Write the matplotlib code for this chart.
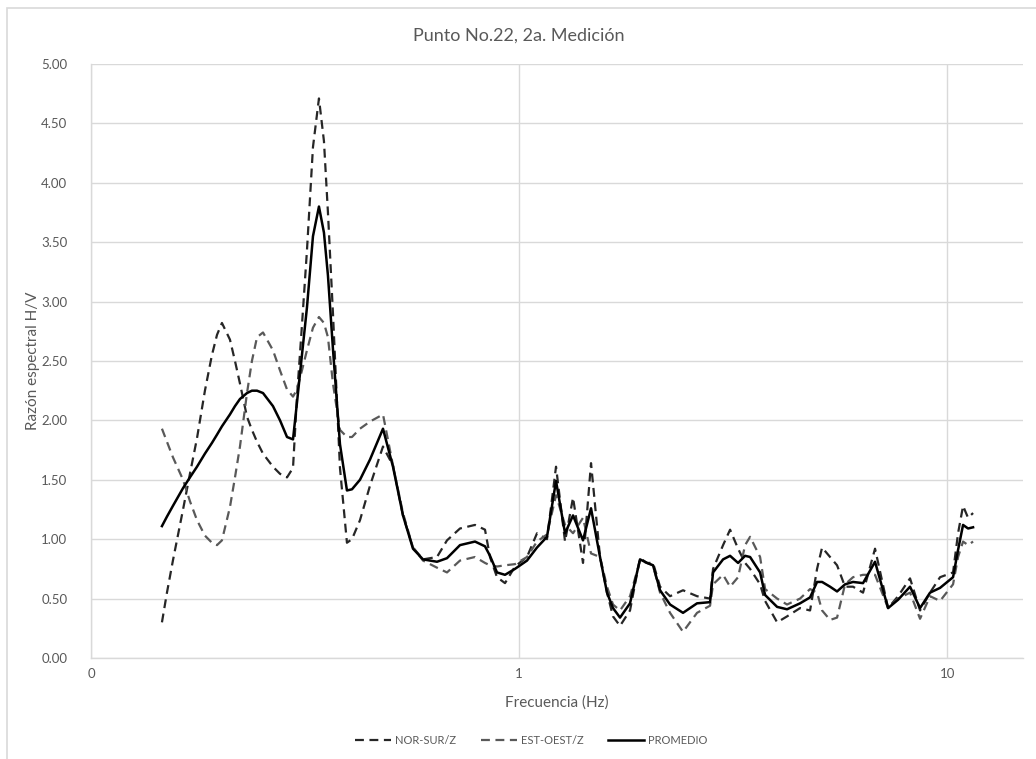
import matplotlib
matplotlib.use("Agg")
import matplotlib.pyplot as plt
from matplotlib.patches import Rectangle
from matplotlib.ticker import FixedLocator, FixedFormatter, MultipleLocator, FormatStrFormatter

# frequency (Hz) shared by the three curves
freq = [0.1465, 0.1505, 0.1554, 0.1641, 0.1703, 0.1769, 0.1846, 0.1917, 0.1970, 0.2023,
        0.2112, 0.2170, 0.2229, 0.2315, 0.2377, 0.2443, 0.2523, 0.2662, 0.2765, 0.2871,
        0.2965, 0.3029, 0.3111, 0.3196, 0.3301, 0.3409, 0.3502, 0.3578, 0.3676, 0.3817,
        0.3963, 0.4072, 0.4251, 0.4486, 0.4811, 0.5077, 0.5357, 0.5653, 0.5966, 0.6433,
        0.6788, 0.7280, 0.7892, 0.8328, 0.8555, 0.8884, 0.9275, 0.9787, 1.0440, 1.1017,
        1.1625, 1.2203, 1.2809, 1.3372, 1.4110, 1.4731, 1.5461, 1.6055, 1.6581, 1.7218,
        1.8169, 1.9173, 1.9910, 2.0564, 2.1355, 2.2534, 2.4164, 2.6055, 2.7947, 2.8401,
        2.9974, 3.1125, 3.2494, 3.3743, 3.4664, 3.6578, 3.7576, 4.0086, 4.2283, 4.5352,
        4.7862, 4.9696, 5.1053, 5.3293, 5.5341, 5.7771, 6.0308, 6.3636, 6.7881, 7.2817,
        7.6838, 8.1946, 8.6478, 9.1260, 9.6303, 10.328, 10.610, 10.899, 11.196, 11.502]

nor_sur = [0.30, 0.55, 0.82, 1.25, 1.55, 1.85, 2.25, 2.55, 2.72, 2.82,
           2.68, 2.50, 2.31, 2.03, 1.92, 1.82, 1.72, 1.61, 1.55, 1.52,
           1.60, 2.20, 2.80, 3.43, 4.30, 4.71, 4.35, 3.75, 2.90, 1.60,
           0.97, 1.00, 1.16, 1.45, 1.78, 1.62, 1.20, 0.93, 0.83, 0.85,
           0.99, 1.09, 1.12, 1.08, 0.85, 0.68, 0.63, 0.77, 0.85, 1.05,
           1.00, 1.61, 0.98, 1.35, 0.80, 1.64, 0.85, 0.55, 0.35, 0.27,
           0.40, 0.84, 0.80, 0.80, 0.60, 0.52, 0.57, 0.52, 0.50, 0.75,
           0.95, 1.08, 0.92, 0.80, 0.75, 0.62, 0.48, 0.30, 0.35, 0.42,
           0.40, 0.75, 0.93, 0.85, 0.78, 0.60, 0.60, 0.55, 0.92, 0.42,
           0.52, 0.67, 0.40, 0.55, 0.68, 0.72, 1.05, 1.28, 1.18, 1.22]

est_oest = [1.93, 1.82, 1.69, 1.50, 1.32, 1.16, 1.03, 0.97, 0.95, 0.99,
            1.27, 1.52, 1.78, 2.23, 2.50, 2.70, 2.74, 2.59, 2.42, 2.26,
            2.20, 2.26, 2.42, 2.59, 2.78, 2.87, 2.82, 2.70, 2.31, 1.92,
            1.86, 1.86, 1.93, 1.99, 2.05, 1.62, 1.22, 0.93, 0.82, 0.76,
            0.72, 0.82, 0.85, 0.80, 0.78, 0.77, 0.78, 0.79, 0.85, 0.98,
            1.04, 1.37, 1.12, 1.05, 1.18, 0.88, 0.85, 0.60, 0.45, 0.40,
            0.52, 0.82, 0.80, 0.78, 0.55, 0.38, 0.22, 0.38, 0.44, 0.62,
            0.70, 0.60, 0.68, 0.95, 1.02, 0.85, 0.58, 0.50, 0.45, 0.50,
            0.58, 0.55, 0.40, 0.32, 0.34, 0.62, 0.68, 0.70, 0.70, 0.42,
            0.50, 0.55, 0.33, 0.52, 0.48, 0.62, 0.85, 0.98, 0.95, 0.98]

promedio = [1.11, 1.19, 1.28, 1.43, 1.52, 1.61, 1.72, 1.81, 1.88, 1.95,
            2.05, 2.12, 2.18, 2.23, 2.25, 2.25, 2.23, 2.12, 2.00, 1.86,
            1.84, 2.15, 2.55, 2.95, 3.55, 3.80, 3.58, 3.22, 2.60, 1.80,
            1.41, 1.42, 1.50, 1.67, 1.93, 1.61, 1.20, 0.92, 0.83, 0.81,
            0.84, 0.95, 0.98, 0.94, 0.86, 0.72, 0.70, 0.75, 0.82, 0.93,
            1.02, 1.49, 1.05, 1.20, 0.99, 1.26, 0.85, 0.55, 0.42, 0.34,
            0.46, 0.83, 0.80, 0.78, 0.57, 0.45, 0.38, 0.46, 0.47, 0.72,
            0.83, 0.86, 0.80, 0.86, 0.85, 0.72, 0.53, 0.43, 0.41, 0.46,
            0.51, 0.64, 0.64, 0.60, 0.56, 0.62, 0.64, 0.63, 0.81, 0.42,
            0.49, 0.60, 0.42, 0.55, 0.59, 0.68, 0.91, 1.12, 1.09, 1.10]

x_ticks = [0.1, 1, 10]
x_tick_labels = ['0', '1', '10']

plt.rcParams['font.family'] = ['Lato', 'DejaVu Sans']
text_gray = '#595959'
grid_gray = '#d9d9d9'

fig = plt.figure(figsize=(10.36, 7.59), dpi=100)
ax = fig.add_axes([0.0878, 0.1331, 0.8997, 0.7826])

ax.plot(freq, nor_sur, color='#262626', linewidth=1.6, dashes=(4, 2.5), label='NOR-SUR/Z')
ax.plot(freq, est_oest, color='#595959', linewidth=1.6, dashes=(4, 2.5), label='EST-OEST/Z')
ax.plot(freq, promedio, color='black', linewidth=1.8, label='PROMEDIO')

ax.set_xscale('log')
ax.set_xlim(0.1, 15.05)
ax.set_ylim(0, 5)
ax.xaxis.set_major_locator(FixedLocator(x_ticks))
ax.xaxis.set_major_formatter(FixedFormatter(x_tick_labels))
ax.xaxis.set_minor_locator(FixedLocator([]))
ax.yaxis.set_major_locator(MultipleLocator(0.5))
ax.yaxis.set_major_formatter(FormatStrFormatter('%.2f'))

ax.grid(True, color=grid_gray, linewidth=1)
ax.set_axisbelow(True)
for side in ['top', 'right']:
    ax.spines[side].set_visible(False)
for side in ['left', 'bottom']:
    ax.spines[side].set_color(grid_gray)
    ax.spines[side].set_linewidth(1)
ax.tick_params(length=0, colors=text_gray, labelsize=9.5)
ax.tick_params(axis='x', pad=7)
ax.tick_params(axis='y', pad=17)

ax.set_xlabel('Frecuencia (Hz)', fontsize=11, color=text_gray, labelpad=11)
ax.set_ylabel('Razón espectral H/V', fontsize=11, color=text_gray, labelpad=1)
fig.text(0.501, 0.953, 'Punto No.22, 2a. Medición', ha='center', va='center',
         fontsize=13, color=text_gray)

leg = fig.legend(loc='center', bbox_to_anchor=(0.513, 0.024), ncol=3, frameon=False,
                 fontsize=8, handlelength=3.2, columnspacing=2.2, handletextpad=0.4)
for t in leg.get_texts():
    t.set_color(text_gray)

# chart area border
fig.patches.append(Rectangle((7 / 1036, -0.05), 1.1, 1 - 8 / 759 + 0.05, transform=fig.transFigure,
                             fill=False, edgecolor=grid_gray, linewidth=1.2))

fig.savefig('out.png', dpi=100)
